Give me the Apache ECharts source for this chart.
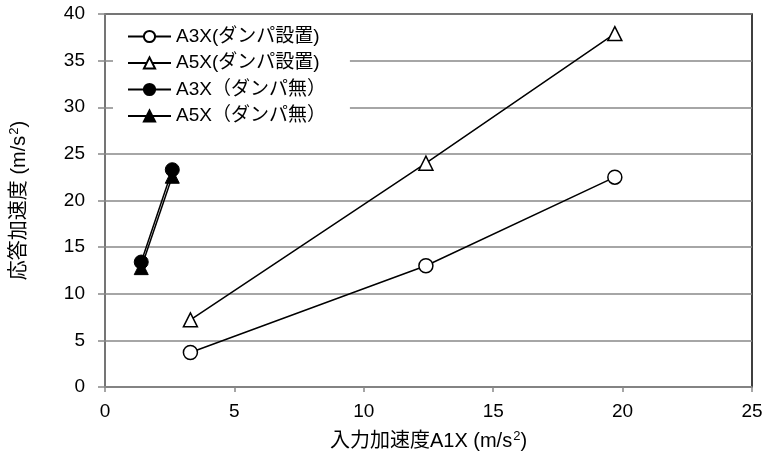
<!DOCTYPE html>
<html>
<head>
<meta charset="utf-8">
<script src="https://cdn.jsdelivr.net/npm/echarts@6/dist/echarts.min.js"></script>
<style>
  html, body { margin: 0; padding: 0; background: #fff; }
  #chart { width: 768px; height: 465px; }
</style>
</head>
<body>
<div id="chart"></div>
<script>
// Input acceleration A1X (m/s²) and response acceleration per series
const a3xDamperX = [3.3, 12.4, 19.7];
const a3xDamperY = [3.7, 13.0, 22.5];
const a5xDamperX = [3.3, 12.4, 19.7];
const a5xDamperY = [7.2, 24.0, 37.9];
const a3xNoDamperX = [1.4, 2.6];
const a3xNoDamperY = [13.4, 23.3];
const a5xNoDamperX = [1.4, 2.6];
const a5xNoDamperY = [12.8, 22.6];

const seriesNames = ['A3X(ダンパ設置)', 'A5X(ダンパ設置)', 'A3X（ダンパ無）', 'A5X（ダンパ無）'];

const pairs = (xs, ys) => xs.map((x, i) => [x, ys[i]]);

const labelFont = '"Liberation Sans", Arial, sans-serif';
const mixedFont = '"Liberation Sans", "Noto Sans CJK JP", sans-serif';

function makeSeries(name, data, symbol, filled, z) {
  return {
    name: name,
    type: 'line',
    data: data,
    symbol: symbol,
    symbolSize: 14,
    z: z,
    lineStyle: { color: '#000', width: 1.5 },
    itemStyle: filled
      ? { color: '#000', borderColor: '#000', borderWidth: 1 }
      : { color: '#fff', borderColor: '#000', borderWidth: 1.5 },
    emphasis: { disabled: true },
    animation: false
  };
}

const supStyle = { fontSize: 13, verticalAlign: 'top', padding: [0, 0, 9, 1], fontFamily: labelFont, color: '#000' };

const chart = echarts.init(document.getElementById('chart'));
chart.setOption({
  backgroundColor: '#fff',
  animation: false,
  grid: {
    left: 105, top: 14, width: 647, height: 373,
    show: true, borderColor: '#000', borderWidth: 1.5, backgroundColor: 'transparent'
  },
  legend: {
    orient: 'vertical',
    left: 113, top: 24,
    itemWidth: 43, itemHeight: 14, itemGap: 7.5,
    padding: [3, 24, 3, 14],
    backgroundColor: '#fff',
    textStyle: { fontFamily: mixedFont, fontSize: 19, color: '#000' },
    data: seriesNames
  },
  xAxis: {
    type: 'value', min: 0, max: 25, interval: 5,
    name: '入力加速度A1X (m/s{sup|2})',
    nameLocation: 'middle', nameGap: 43,
    nameTextStyle: { fontFamily: mixedFont, fontSize: 20, color: '#000', rich: { sup: supStyle } },
    axisLine: { lineStyle: { color: '#888', width: 1.5 } },
    axisTick: { show: true, length: 5, inside: false, lineStyle: { color: '#888', width: 1.5 } },
    axisLabel: { fontFamily: labelFont, fontSize: 19, color: '#000', margin: 15 },
    splitLine: { show: false }
  },
  yAxis: {
    type: 'value', min: 0, max: 40, interval: 5,
    name: '応答加速度 (m/s{sup|2})',
    nameLocation: 'middle', nameGap: 75, nameRotate: 90,
    nameTextStyle: { fontFamily: mixedFont, fontSize: 20, color: '#000', rich: { sup: supStyle } },
    axisLine: { show: true, lineStyle: { color: '#888', width: 1.5 } },
    axisTick: { show: true, length: 7, lineStyle: { color: '#888', width: 1.5 } },
    axisLabel: { fontFamily: labelFont, fontSize: 19, color: '#000', margin: 20 },
    splitLine: { show: true, lineStyle: { color: '#888', width: 1.5 } }
  },
  series: [
    makeSeries(seriesNames[0], pairs(a3xDamperX, a3xDamperY), 'circle', false, 3),
    makeSeries(seriesNames[1], pairs(a5xDamperX, a5xDamperY), 'triangle', false, 3),
    makeSeries(seriesNames[2], pairs(a3xNoDamperX, a3xNoDamperY), 'circle', true, 4),
    makeSeries(seriesNames[3], pairs(a5xNoDamperX, a5xNoDamperY), 'triangle', true, 3)
  ]
});
</script>
</body>
</html>
